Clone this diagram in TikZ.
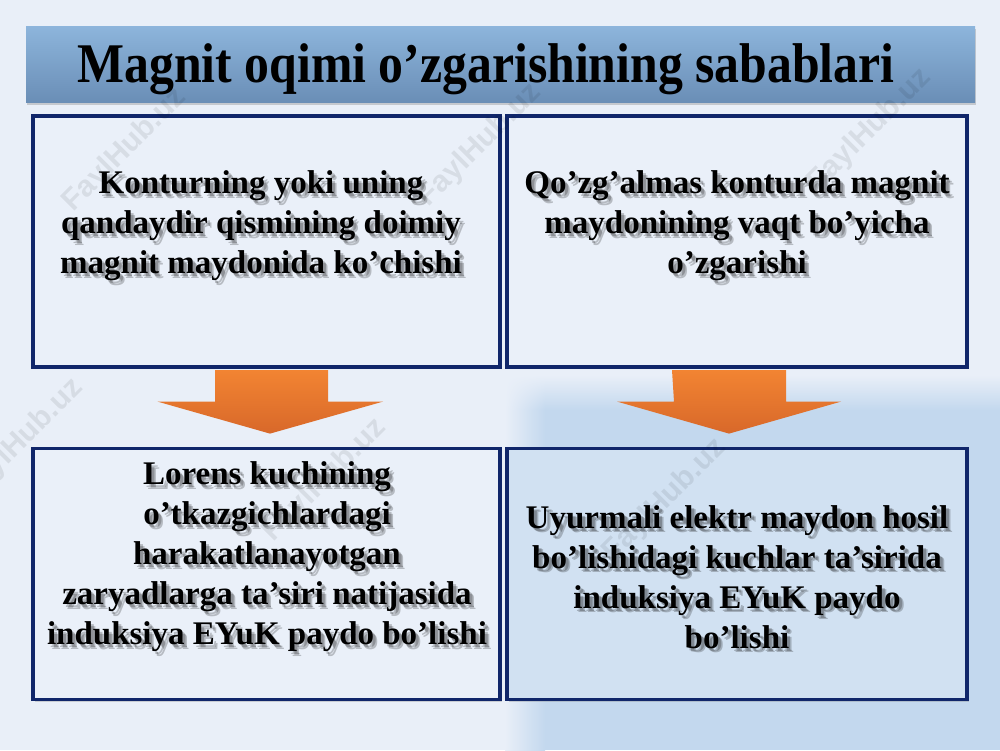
\documentclass[tikz,border=0pt]{standalone}
\usepackage{fontspec}
\setmainfont{Liberation Serif}
\newfontfamily\wmfont{Liberation Sans}
\usetikzlibrary{calc,shadows,shadings}
\definecolor{bgc}{HTML}{E9EFF8}
\definecolor{bgblue}{HTML}{C3D8EE}
\definecolor{boxfill}{HTML}{EAF0F9}
\definecolor{boxfillb}{HTML}{D1E1F2}
\definecolor{navy}{HTML}{10266A}
\definecolor{titletop}{HTML}{8DB5DC}
\definecolor{titlebot}{HTML}{6A8EB6}
\definecolor{arrtop}{HTML}{F28432}
\definecolor{arrbot}{HTML}{D8682A}
\tikzset{
  box/.style={draw=navy, line width=3.2pt, fill=boxfill,
    minimum width=#1, minimum height=251pt, inner sep=0pt,
    drop shadow={opacity=0.3, shadow xshift=2pt, shadow yshift=-2pt}},
  box/.default=467pt,
  txt/.style={font=\fontsize{33}{40}\selectfont\bfseries, align=center, inner sep=0pt, text=black},
  txtsh/.style={txt, text=black, opacity=0.22},
  arrowshape/.style={top color=arrtop, bottom color=arrbot, draw=none},
  wm/.style={font=\wmfont\fontsize{30}{30}\selectfont\bfseries, text=black, opacity=0.08, rotate=45}
}
\begin{document}
\begin{tikzpicture}[x=1pt,y=-1pt]
\useasboundingbox (0,0) rectangle (1000,750);
\fill[bgc] (0,0) rectangle (1000,750);
% soft blue area lower right
\fill[bgblue] (545,410) rectangle (1000,750);
\shade[left color=bgc, right color=bgblue] (505,410) rectangle (545,750);
\shade[top color=bgc, bottom color=bgblue] (545,375) rectangle (1000,410);
\shade[upper left=bgc, upper right=bgc, lower left=bgc, lower right=bgblue] (505,375) rectangle (545,410);
% title
\node[top color=titletop, bottom color=titlebot, minimum width=949pt, minimum height=76pt, inner sep=0pt,
  drop shadow={opacity=0.35, shadow xshift=1pt, shadow yshift=-3pt}] (title) at (500.5,64) {};
\node[font=\fontsize{50}{50}\selectfont\bfseries, xscale=0.995, yscale=1.12, inner sep=0pt] (titletext) at (486,69) {Magnit oqimi o’zgarishining sabablari};
% boxes
\node[box=467pt] (b1) at (266.5,241.5) {};
\node[box=460pt] (b2) at (737,241.5) {};
\node[box=467pt] (b3) at (266.5,574) {};
\node[box=460pt, fill=boxfillb] (b4) at (737,574) {};
% arrows
\path[arrowshape] ($(b1.south)+(-51.5,1.6)$) -- ++(113,0) -- ++(0,31.4) -- ++(55,0) -- ($(b1.south)+(3.5,65)$) -- ++(-112.5,-32) -- ++(57.5,0) -- cycle;
\path[arrowshape] ($(b2.south)+(-65,1.6)$) -- ++(114,0) -- ++(0,31.4) -- ++(55,0) -- ($(b2.south)+(-8,65)$) -- ++(-112,-32) -- ++(57,0) -- cycle;
% watermarks
\node[wm] (w1) at (125,150) {FaylHub.uz};
\node[wm] (w2) at (480,145) {FaylHub.uz};
\node[wm] (w3) at (870,130) {FaylHub.uz};
\node[wm] (w4) at (22,440) {FaylHub.uz};
\node[wm] (w5) at (325,480) {FaylHub.uz};
\node[wm] (w6) at (665,500) {FaylHub.uz};
% texts (soft shadow, then text)
\node[txtsh] (t1s) at (264,229) {Konturning yoki uning\\qandaydir qismining doimiy\\magnit maydonida ko’chishi};
\node[txtsh] (t1r) at (265.5,230.5) {Konturning yoki uning\\qandaydir qismining doimiy\\magnit maydonida ko’chishi};
\node[txt] (t1) at (261,226) {Konturning yoki uning\\qandaydir qismining doimiy\\magnit maydonida ko’chishi};
\node[txtsh] (t2s) at (740,229) {Qo’zg’almas konturda magnit\\maydonining vaqt bo’yicha\\o’zgarishi};
\node[txtsh] (t2r) at (741.5,230.5) {Qo’zg’almas konturda magnit\\maydonining vaqt bo’yicha\\o’zgarishi};
\node[txt] (t2) at (737,226) {Qo’zg’almas konturda magnit\\maydonining vaqt bo’yicha\\o’zgarishi};
\node[txtsh] (t3s) at (270,560) {Lorens kuchining\\o’tkazgichlardagi\\harakatlanayotgan\\zaryadlarga ta’siri natijasida\\induksiya EYuK paydo bo’lishi};
\node[txtsh] (t3r) at (271.5,561.5) {Lorens kuchining\\o’tkazgichlardagi\\harakatlanayotgan\\zaryadlarga ta’siri natijasida\\induksiya EYuK paydo bo’lishi};
\node[txt] (t3) at (267,557) {Lorens kuchining\\o’tkazgichlardagi\\harakatlanayotgan\\zaryadlarga ta’siri natijasida\\induksiya EYuK paydo bo’lishi};
\node[txtsh] (t4s) at (740,580) {Uyurmali elektr maydon hosil\\bo’lishidagi kuchlar ta’sirida\\induksiya EYuK paydo\\bo’lishi};
\node[txtsh] (t4r) at (741.5,581.5) {Uyurmali elektr maydon hosil\\bo’lishidagi kuchlar ta’sirida\\induksiya EYuK paydo\\bo’lishi};
\node[txt] (t4) at (737,577) {Uyurmali elektr maydon hosil\\bo’lishidagi kuchlar ta’sirida\\induksiya EYuK paydo\\bo’lishi};
\end{tikzpicture}
\end{document}
